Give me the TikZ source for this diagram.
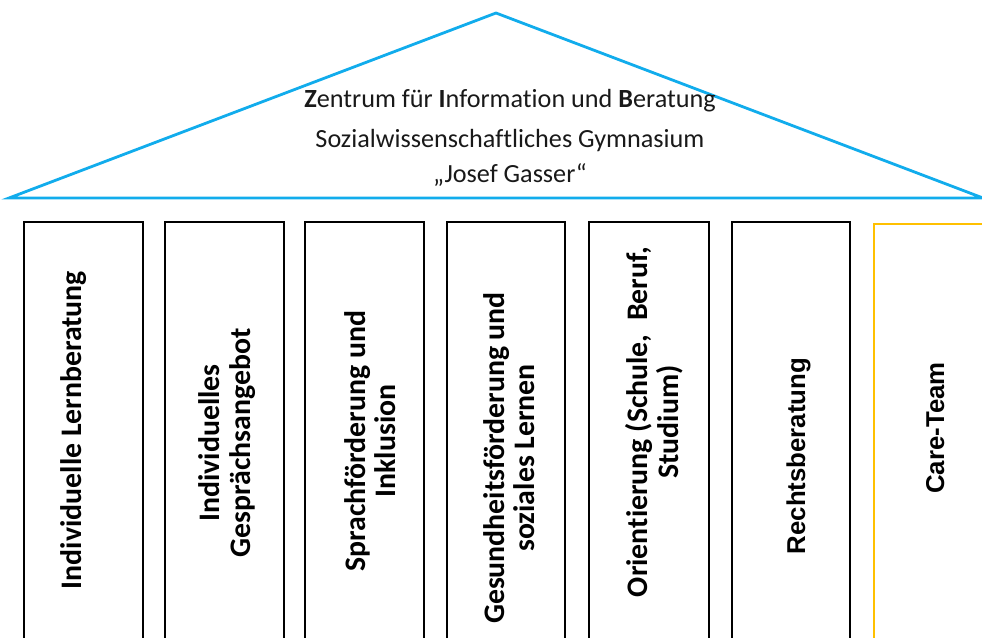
\documentclass[tikz,border=0pt]{standalone}
\usepackage{fontspec}
\setmainfont{Carlito}[Ligatures=NoCommon]
\newfontfamily\arialfont{Liberation Sans}
\definecolor{roofblue}{RGB}{17,172,236}
\definecolor{careyellow}{RGB}{255,192,0}
\tikzset{
  roof/.style={draw=roofblue, line width=1.4pt, line join=miter},
  pillar/.style={draw=black, line width=1.4pt, line join=miter},
  carepillar/.style={draw=careyellow, line width=1.4pt, line join=miter},
  headtext/.style={anchor=base, inner sep=0pt, font=\fontsize{13.1}{15}\selectfont, text=black!90},
  coltext/.style={rotate=90, inner sep=0pt, align=center, font=\fontsize{14.9}{15.2}\selectfont\bfseries},
  arialtext/.style={rotate=90, inner sep=0pt, anchor=base, font=\arialfont\fontsize{12.9}{15}\selectfont\bfseries}
}
\begin{document}
\begin{tikzpicture}[x=0.5pt,y=-0.5pt]
\useasboundingbox (0,0) rectangle (982,638);
% roof
\coordinate (apex) at (496,13);
\coordinate (bl) at (9,198);
\coordinate (br) at (983,198);
\draw[roof] (bl) -- (apex) -- (br) -- cycle;
\node[headtext] (h1) at (510,107) {\textbf{Z}entrum für \textbf{I}nformation und \textbf{B}eratung};
\node[headtext] (h2) at (510,147) {Sozialwissenschaftliches Gymnasium};
\node[headtext] (h3) at (510,182) {„Josef Gasser“};
% pillars
\draw[pillar] (24,645) |- (143,222) -- (143,645);
\draw[pillar] (165,645) |- (284,222) -- (284,645);
\draw[pillar] (305,645) |- (424,222) -- (424,645);
\draw[pillar] (447,645) |- (565,222) -- (565,645);
\draw[pillar] (589,645) |- (709,222) -- (709,645);
\draw[pillar] (732,645) |- (850,222) -- (850,645);
\draw[carepillar] (874,645) |- (990,224);
% pillar texts
\node[coltext, anchor=base] (c1) at (82,430) {Individuelle Lernberatung};
\node[coltext] (c2) at (227,443) {Individuelles\\Gesprächsangebot};
\node[coltext] (c3) at (370,441) {Sprachförderung und\\Inklusion};
\node[coltext] (c4) at (509,458) {Gesundheitsförderung und\\soziales Lernen};
\node[coltext] (c5) at (654,422) {Orientierung (Schule,\ \ Beruf,\\Studium)};
\node[arialtext] (c6) at (805,456) {Rechtsberatung};
\node[arialtext] (c7) at (944,428) {Care-Team};
\end{tikzpicture}
\end{document}
